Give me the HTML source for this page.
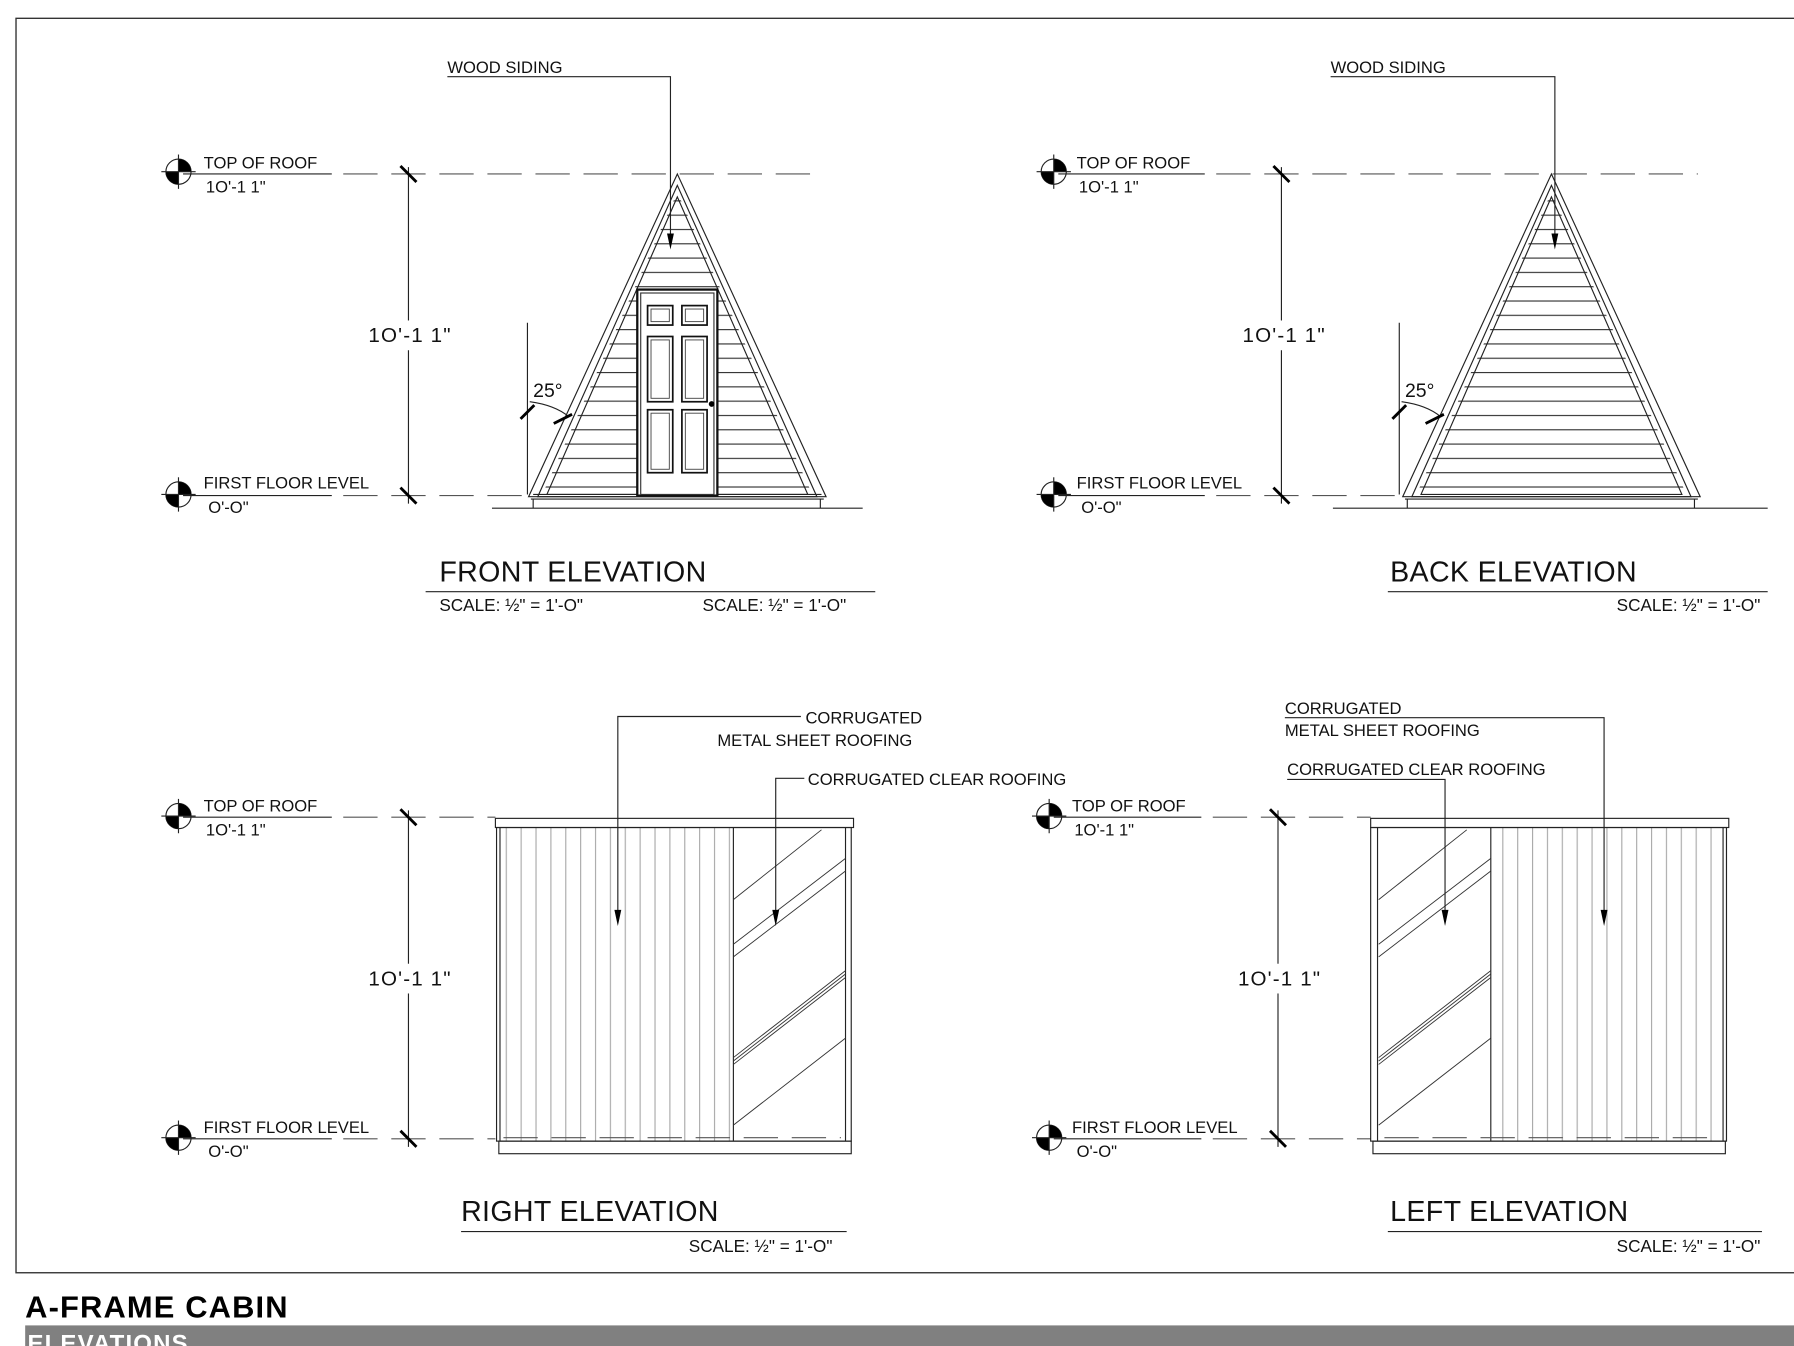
<!DOCTYPE html>
<html><head><meta charset="utf-8"><style>
html,body{margin:0;padding:0;background:#fff;}
svg{display:block;}
text{font-family:"Liberation Sans",sans-serif;fill:#111;}
.t{font-size:14.5px;}
.big{font-size:25px;letter-spacing:0.3px;}
.sm{font-size:15px;}
.ln{stroke:#222;stroke-width:1;fill:none;}
.dash{stroke:#555;stroke-width:1;stroke-dasharray:30 12;fill:none;}
.ah{fill:#000;}
</style></head><body>
<svg width="1794" height="1346" viewBox="0 0 1568 1176" preserveAspectRatio="none" xmlns="http://www.w3.org/2000/svg">
<defs>
<pattern id="hz" x="0" y="0" width="10" height="12.5" patternUnits="userSpaceOnUse">
<line x1="0" y1="0.5" x2="10" y2="0.5" stroke="#333" stroke-width="1"/>
</pattern>
<pattern id="vt" x="0" y="0" width="13" height="10" patternUnits="userSpaceOnUse">
<line x1="0.5" y1="0" x2="0.5" y2="10" stroke="#aaa" stroke-width="1"/>
</pattern>
<g id="mk">
<circle cx="0" cy="0" r="11" fill="#fff" stroke="#222" stroke-width="1"/>
<path d="M0,0 L0,-11 A11,11 0 0 1 11,0 Z" fill="#000"/>
<path d="M0,0 L0,11 A11,11 0 0 1 -11,0 Z" fill="#000"/>
<line x1="-15" y1="0" x2="15" y2="0" stroke="#222"/>
<line x1="0" y1="-15" x2="0" y2="15" stroke="#222"/>
</g>
</defs>
<rect x="0" y="0" width="1568" height="1176" fill="#fff"/>
<rect x="14" y="16" width="1600" height="1096" fill="none" stroke="#333" stroke-width="1.2"/>

<!-- ============ FRONT ELEVATION ============ -->
<use href="#mk" x="156" y="150"/>
<text class="t" x="178" y="147">TOP OF ROOF</text>
<text class="t" x="180" y="168">1O'-1 1"</text>
<line class="ln" x1="160" y1="152" x2="290" y2="152"/>
<line class="dash" x1="300" y1="152" x2="720" y2="152"/>
<use href="#mk" x="156" y="432"/>
<text class="t" x="178" y="427">FIRST FLOOR LEVEL</text>
<text class="t" x="182" y="448">O'-O"</text>
<line class="ln" x1="160" y1="433" x2="290" y2="433"/>
<line class="dash" x1="300" y1="433" x2="462" y2="433"/>
<line class="ln" x1="357" y1="146" x2="357" y2="440"/>
<line x1="350" y1="145" x2="364" y2="159" stroke="#000" stroke-width="2.5"/>
<line x1="350" y1="426" x2="364" y2="440" stroke="#000" stroke-width="2.5"/>
<rect x="318" y="280" width="74" height="26" fill="#fff"/>
<text class="t" x="322" y="299" style="font-size:18px;letter-spacing:1px">1O'-1 1"</text>
<polygon points="592,168 474,432 710,432" fill="url(#hz)"/>
<polygon points="592,152 462,434 722,434" class="ln"/>
<polygon points="592,162 470,434 714,434" class="ln"/>
<polygon points="592,172 478,432 706,432" class="ln"/>
<line class="ln" x1="466" y1="432" x2="718" y2="432"/>
<line class="ln" x1="464" y1="436" x2="720" y2="436"/>
<line class="ln" x1="430" y1="444" x2="754" y2="444"/>
<line class="ln" x1="466" y1="436" x2="466" y2="444"/>
<line class="ln" x1="717" y1="436" x2="717" y2="444"/>
<rect x="557" y="253" width="70" height="180" fill="#fff" stroke="#111" stroke-width="2"/>
<rect x="560" y="256" width="64" height="176" fill="none" stroke="#333"/>
<g fill="none" stroke="#111" stroke-width="1.5">
<rect x="566" y="267" width="22" height="17"/><rect x="596" y="267" width="22" height="17"/>
<rect x="566" y="294" width="22" height="57"/><rect x="596" y="294" width="22" height="57"/>
<rect x="566" y="358" width="22" height="55"/><rect x="596" y="358" width="22" height="55"/>
</g>
<g fill="none" stroke="#444" stroke-width="0.8">
<rect x="569" y="270" width="16" height="11"/><rect x="599" y="270" width="16" height="11"/>
<rect x="569" y="297" width="16" height="51"/><rect x="599" y="297" width="16" height="51"/>
<rect x="569" y="361" width="16" height="49"/><rect x="599" y="361" width="16" height="49"/>
</g>
<circle cx="622" cy="353" r="2.5" fill="#000"/>
<line class="ln" x1="461" y1="282" x2="461" y2="432"/>
<text class="t" x="466" y="347" style="font-size:17px">25°</text>
<path d="M463,351 Q485,354 497,364" class="ln"/>
<line x1="455" y1="366" x2="467" y2="354" stroke="#000" stroke-width="2.5"/>
<line x1="484" y1="370" x2="500" y2="362" stroke="#000" stroke-width="2.5"/>
<text class="t" x="391" y="64">WOOD SIDING</text>
<polyline class="ln" points="391,67 586,67 586,205"/>
<polygon class="ah" points="583,204 589,204 586,218"/>
<text class="big" x="384" y="508">FRONT ELEVATION</text>
<line class="ln" x1="372" y1="517" x2="765" y2="517" stroke="#888"/>
<text class="sm" x="384" y="534">SCALE: ½" = 1'-O"</text>
<text class="sm" x="614" y="534">SCALE: ½" = 1'-O"</text>

<!-- ============ BACK ELEVATION ============ -->
<use href="#mk" x="921" y="150"/>
<text class="t" x="941" y="147">TOP OF ROOF</text>
<text class="t" x="943" y="168">1O'-1 1"</text>
<line class="ln" x1="925" y1="152" x2="1053" y2="152"/>
<line class="dash" x1="1063" y1="152" x2="1484" y2="152"/>
<use href="#mk" x="921" y="432"/>
<text class="t" x="941" y="427">FIRST FLOOR LEVEL</text>
<text class="t" x="945" y="448">O'-O"</text>
<line class="ln" x1="925" y1="433" x2="1053" y2="433"/>
<line class="dash" x1="1063" y1="433" x2="1224" y2="433"/>
<line class="ln" x1="1120" y1="146" x2="1120" y2="440"/>
<line x1="1113" y1="145" x2="1127" y2="159" stroke="#000" stroke-width="2.5"/>
<line x1="1113" y1="426" x2="1127" y2="440" stroke="#000" stroke-width="2.5"/>
<rect x="1082" y="280" width="74" height="26" fill="#fff"/>
<text class="t" x="1086" y="299" style="font-size:18px;letter-spacing:1px">1O'-1 1"</text>
<polygon points="1356,168 1238,432 1474,432" fill="url(#hz)"/>
<polygon points="1356,152 1226,434 1486,434" class="ln"/>
<polygon points="1356,162 1234,434 1478,434" class="ln"/>
<polygon points="1356,172 1242,432 1470,432" class="ln"/>
<line class="ln" x1="1228" y1="436" x2="1484" y2="436"/>
<line class="ln" x1="1165" y1="444" x2="1545" y2="444"/>
<line class="ln" x1="1230" y1="436" x2="1230" y2="444"/>
<line class="ln" x1="1481" y1="436" x2="1481" y2="444"/>
<line class="ln" x1="1223" y1="282" x2="1223" y2="432"/>
<text class="t" x="1228" y="347" style="font-size:17px">25°</text>
<path d="M1225,351 Q1247,354 1259,364" class="ln"/>
<line x1="1217" y1="366" x2="1229" y2="354" stroke="#000" stroke-width="2.5"/>
<line x1="1246" y1="370" x2="1262" y2="362" stroke="#000" stroke-width="2.5"/>
<text class="t" x="1163" y="64">WOOD SIDING</text>
<polyline class="ln" points="1163,67 1359,67 1359,205"/>
<polygon class="ah" points="1356,204 1362,204 1359,218"/>
<text class="big" x="1215" y="508">BACK ELEVATION</text>
<line class="ln" x1="1213" y1="517" x2="1545" y2="517" stroke="#888"/>
<text class="sm" x="1413" y="534">SCALE: ½" = 1'-O"</text>

<!-- ============ RIGHT ELEVATION ============ -->
<use href="#mk" x="156" y="713"/>
<text class="t" x="178" y="709">TOP OF ROOF</text>
<text class="t" x="180" y="730">1O'-1 1"</text>
<line class="ln" x1="160" y1="714" x2="290" y2="714"/>
<line class="dash" x1="300" y1="714" x2="433" y2="714"/>
<use href="#mk" x="156" y="994"/>
<text class="t" x="178" y="990">FIRST FLOOR LEVEL</text>
<text class="t" x="182" y="1011">O'-O"</text>
<line class="ln" x1="160" y1="995" x2="290" y2="995"/>
<line class="dash" x1="300" y1="995" x2="433" y2="995"/>
<line class="ln" x1="357" y1="708" x2="357" y2="1002"/>
<line x1="350" y1="707" x2="364" y2="721" stroke="#000" stroke-width="2.5"/>
<line x1="350" y1="988" x2="364" y2="1002" stroke="#000" stroke-width="2.5"/>
<rect x="318" y="842" width="74" height="26" fill="#fff"/>
<text class="t" x="322" y="861" style="font-size:18px;letter-spacing:1px">1O'-1 1"</text>
<rect x="437" y="723" width="203" height="274" fill="url(#vt)"/>
<rect x="433" y="715" width="313" height="8" class="ln" stroke-width="1.3"/>
<rect x="434" y="723" width="310" height="274" class="ln" stroke-width="1.3"/>
<line class="ln" x1="437" y1="723" x2="437" y2="997"/>
<line class="ln" x1="641" y1="723" x2="641" y2="997" stroke-width="1.3"/>
<line class="ln" x1="739" y1="723" x2="739" y2="997" stroke-width="1.3"/>
<rect x="436" y="997" width="308" height="11" class="ln" stroke-width="1.3"/>
<line class="dash" x1="440" y1="994" x2="735" y2="994" stroke="#888" stroke-dasharray="25 10"/>
<g stroke="#333" stroke-width="0.8">
<line x1="641" y1="786" x2="718" y2="725"/>
<line x1="641" y1="825" x2="739" y2="750"/>
<line x1="641" y1="836" x2="739" y2="761"/>
<line x1="641" y1="924" x2="739" y2="848"/>
<line x1="641" y1="927" x2="739" y2="851"/>
<line x1="641" y1="930" x2="739" y2="854"/>
<line x1="641" y1="983" x2="739" y2="907"/>
</g>
<text class="t" x="704" y="632">CORRUGATED</text>
<text class="t" x="627" y="652">METAL SHEET ROOFING</text>
<polyline class="ln" points="700,626 540,626 540,796"/>
<polygon class="ah" points="537,795 543,795 540,809"/>
<text class="t" x="706" y="686">CORRUGATED CLEAR ROOFING</text>
<polyline class="ln" points="703,680 678,680 678,796"/>
<polygon class="ah" points="675,795 681,795 678,809"/>
<text class="big" x="403" y="1067">RIGHT ELEVATION</text>
<line class="ln" x1="403" y1="1076" x2="740" y2="1076" stroke="#888"/>
<text class="sm" x="602" y="1094">SCALE: ½" = 1'-O"</text>

<!-- ============ LEFT ELEVATION ============ -->
<use href="#mk" x="917" y="713"/>
<text class="t" x="937" y="709">TOP OF ROOF</text>
<text class="t" x="939" y="730">1O'-1 1"</text>
<line class="ln" x1="921" y1="714" x2="1050" y2="714"/>
<line class="dash" x1="1060" y1="714" x2="1198" y2="714"/>
<use href="#mk" x="917" y="994"/>
<text class="t" x="937" y="990">FIRST FLOOR LEVEL</text>
<text class="t" x="941" y="1011">O'-O"</text>
<line class="ln" x1="921" y1="995" x2="1050" y2="995"/>
<line class="dash" x1="1060" y1="995" x2="1198" y2="995"/>
<line class="ln" x1="1117" y1="708" x2="1117" y2="1002"/>
<line x1="1110" y1="707" x2="1124" y2="721" stroke="#000" stroke-width="2.5"/>
<line x1="1110" y1="988" x2="1124" y2="1002" stroke="#000" stroke-width="2.5"/>
<rect x="1078" y="842" width="74" height="26" fill="#fff"/>
<text class="t" x="1082" y="861" style="font-size:18px;letter-spacing:1px">1O'-1 1"</text>
<rect x="1305" y="723" width="203" height="274" fill="url(#vt)"/>
<rect x="1198" y="715" width="313" height="8" class="ln" stroke-width="1.3"/>
<rect x="1198" y="723" width="311" height="274" class="ln" stroke-width="1.3"/>
<line class="ln" x1="1204" y1="723" x2="1204" y2="997" stroke-width="1.3"/>
<line class="ln" x1="1303" y1="723" x2="1303" y2="997" stroke-width="1.3"/>
<line class="ln" x1="1506" y1="723" x2="1506" y2="997"/>
<rect x="1200" y="997" width="308" height="11" class="ln" stroke-width="1.3"/>
<line class="dash" x1="1210" y1="994" x2="1500" y2="994" stroke="#888" stroke-dasharray="25 10"/>
<g stroke="#333" stroke-width="0.8">
<line x1="1205" y1="786" x2="1282" y2="725"/>
<line x1="1205" y1="825" x2="1303" y2="750"/>
<line x1="1205" y1="836" x2="1303" y2="761"/>
<line x1="1205" y1="924" x2="1303" y2="848"/>
<line x1="1205" y1="927" x2="1303" y2="851"/>
<line x1="1205" y1="930" x2="1303" y2="854"/>
<line x1="1205" y1="983" x2="1303" y2="907"/>
</g>
<text class="t" x="1123" y="624">CORRUGATED</text>
<text class="t" x="1123" y="643">METAL SHEET ROOFING</text>
<polyline class="ln" points="1123,627 1402,627 1402,796"/>
<polygon class="ah" points="1399,795 1405,795 1402,809"/>
<text class="t" x="1125" y="677">CORRUGATED CLEAR ROOFING</text>
<polyline class="ln" points="1125,681 1263,681 1263,796"/>
<polygon class="ah" points="1260,795 1266,795 1263,809"/>
<text class="big" x="1215" y="1067">LEFT ELEVATION</text>
<line class="ln" x1="1213" y1="1076" x2="1540" y2="1076" stroke="#888"/>
<text class="sm" x="1413" y="1094">SCALE: ½" = 1'-O"</text>

<text x="22" y="1151" style="font-size:27px;font-weight:bold;fill:#000;letter-spacing:1px;">A-FRAME CABIN</text>
<rect x="22" y="1158" width="1560" height="20" fill="#808080"/>
<text x="24" y="1181" style="font-size:21px;font-weight:bold;fill:#fff;letter-spacing:1px;">ELEVATIONS</text>
</svg>
</body></html>
